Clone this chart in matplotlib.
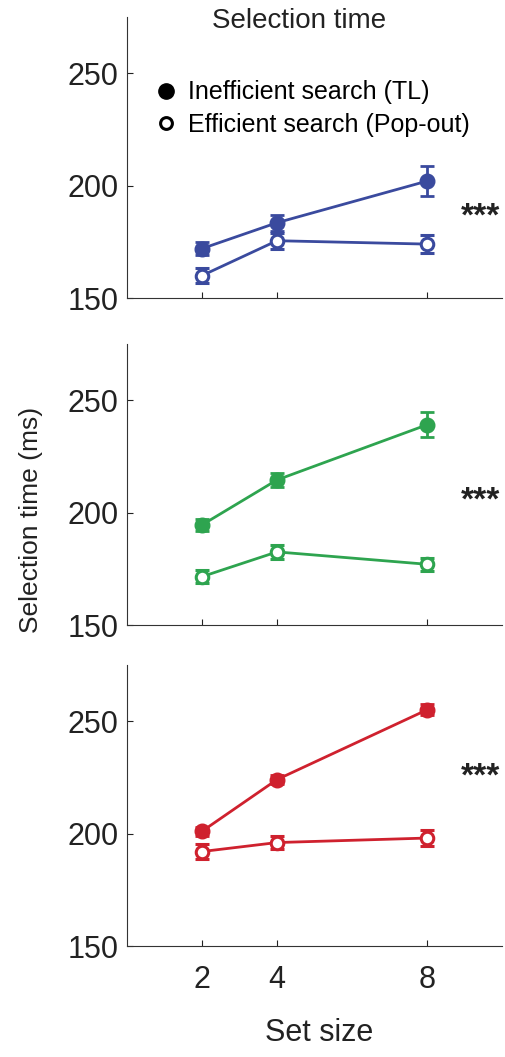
import matplotlib.pyplot as plt

plt.rcParams['font.family'] = ['Liberation Sans', 'DejaVu Sans']

set_size = [2, 4, 8]

# inefficient (TL) / efficient (pop-out), one row per panel
tl_mean = [[172, 183.5, 202], [194.5, 214.5, 239], [201, 224, 255]]
tl_err = [[3, 3.5, 6.5], [2.5, 3, 5.5], [2, 2, 2.5]]
po_mean = [[160, 175.5, 174], [171.5, 182.5, 177], [192, 196, 198]]
po_err = [[3.5, 3.5, 4], [3, 3, 3], [3.5, 3, 3.5]]
colors = ['#3a4a9e', '#2ea44f', '#cf212e']
star_y = [186, 205, 225]

fig = plt.figure(figsize=(5.06, 10.57), dpi=100)
fig.patch.set_facecolor('white')

bottoms = [0.718, 0.4087, 0.105]
height = 0.266
axes = []
for i in range(3):
    ax = fig.add_axes([0.251, bottoms[i], 0.741, height])
    axes.append(ax)
    c = colors[i]
    ax.errorbar(set_size, tl_mean[i], yerr=tl_err[i], color=c, lw=2, marker='o',
                ms=10.5, mfc=c, mec=c, capsize=5, capthick=2, elinewidth=2)
    ax.errorbar(set_size, po_mean[i], yerr=po_err[i], color=c, lw=2, marker='o',
                ms=9, mfc='white', mec=c, mew=2.2, capsize=5, capthick=2,
                elinewidth=2)
    ax.text(9.44, star_y[i], '***', fontsize=24, ha='center', va='center',
            color='#222222', fontweight='bold')
    ax.set_xlim(0, 10)
    ax.set_ylim(150, 275)
    ax.set_yticks([150, 200, 250])
    ax.set_xticks(set_size)
    ax.tick_params(direction='in', length=4, width=0.8, labelsize=22,
                   colors='#222222', pad=6)
    for s in ['top', 'right']:
        ax.spines[s].set_visible(False)
    for s in ['left', 'bottom']:
        ax.spines[s].set_color('#333333')
    if i < 2:
        ax.set_xticklabels([])
    else:
        ax.tick_params(axis='x', pad=14)

h1 = plt.Line2D([], [], marker='o', ls='none', color='black', ms=11)
h2 = plt.Line2D([], [], marker='o', ls='none', mfc='white', mec='black', ms=8.5, mew=2.2)
axes[0].legend([h1, h2], ['Inefficient search (TL)', 'Efficient search (Pop-out)'],
               loc='upper left', bbox_to_anchor=(0.045, 0.81), frameon=False,
               fontsize=18, handletextpad=0.35, labelspacing=0.35,
               handlelength=1.0, borderaxespad=0)

axes[0].text(0.459, 0.985, 'Selection time', transform=axes[0].transAxes,
             fontsize=20, ha='center', va='center', color='#222222')
fig.text(0.062, 0.508, 'Selection time (ms)', rotation=90, fontsize=19,
         ha='center', va='center', color='#222222')
fig.text(0.631, 0.023, 'Set size', fontsize=22, ha='center', va='center',
         color='#222222')

fig.savefig('out.png', dpi=100)
